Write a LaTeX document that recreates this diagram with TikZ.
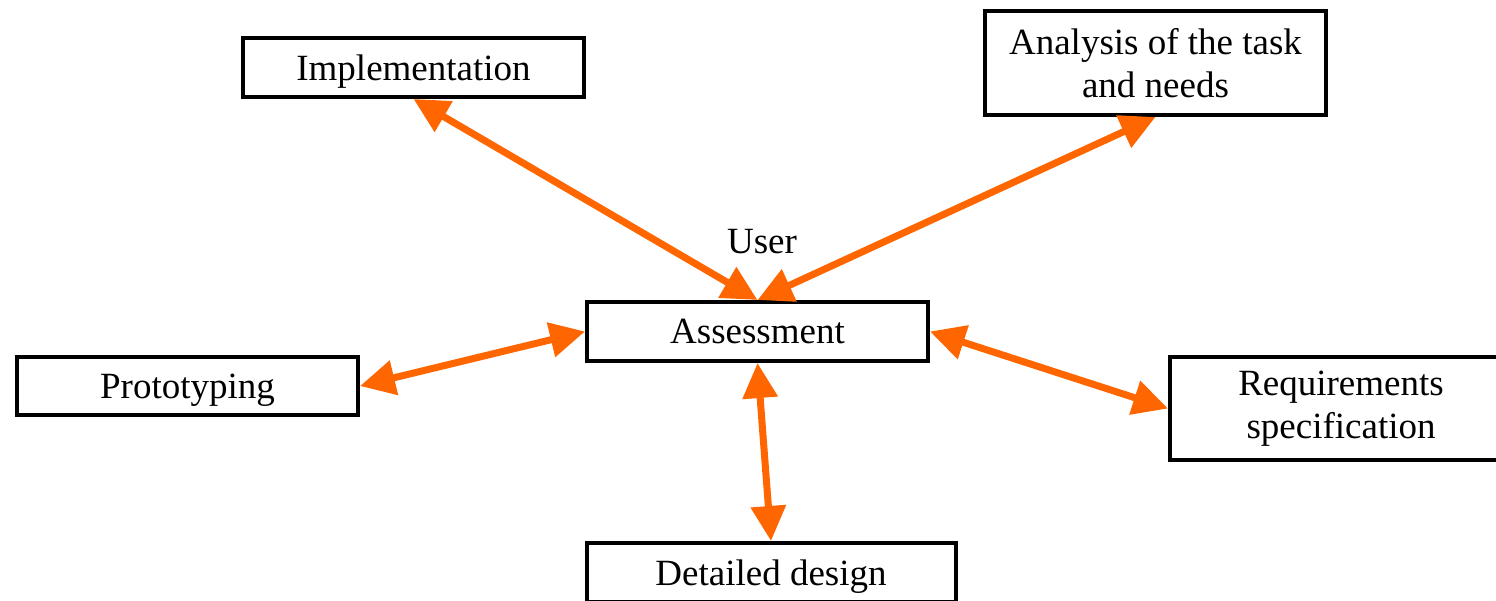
\documentclass[tikz,border=0pt]{standalone}
\usepackage{fontspec}
\setmainfont{Liberation Serif}
\usetikzlibrary{arrows.meta}
\definecolor{arr}{HTML}{FF6600}
\begin{document}
\begin{tikzpicture}[x=1pt,y=-1pt,
  box/.style={draw=black,line width=4pt,fill=white,inner sep=0pt,align=center,
    font=\rmfamily\fontsize{37}{43}\selectfont},
  one/.style={text depth=0pt},
  link/.style={draw=arr,line width=7pt,
    {Triangle[length=35pt,width=34pt]}-{Triangle[length=35pt,width=34pt]}}]
\useasboundingbox (0,0) rectangle (1496,601);
\begin{scope}
\clip (0,0) rectangle (1496,601);
\node[box,one,minimum width=341pt,minimum height=59pt] (impl) at (413.5,67.5) {Implementation};
\node[box,minimum width=341pt,minimum height=104pt] (ana) at (1155.5,63) {Analysis of the task\\and needs};
\node[box,one,minimum width=341pt,minimum height=59pt] (asm) at (757.5,331.5) {Assessment};
\node[box,one,minimum width=341pt,minimum height=58pt] (proto) at (187.5,386) {Prototyping};
\node[box,minimum width=342pt,minimum height=103pt] (req) at (1341,408.5) {Requirements\\specification};
\node[box,one,minimum width=369pt,minimum height=59pt] (det) at (771,572.5) {Detailed design};
\node[font=\rmfamily\fontsize{37}{43}\selectfont,inner sep=0pt] (user) at (762,242) {User};
\draw[link] (impl.south) -- (asm.north);
\draw[link] (ana.south) -- (asm.north);
\draw[link] (proto.east) -- (asm.west);
\draw[link] (asm.east) -- (req.west);
\draw[link] (asm.south) -- (det.north);
\end{scope}
\end{tikzpicture}
\end{document}
